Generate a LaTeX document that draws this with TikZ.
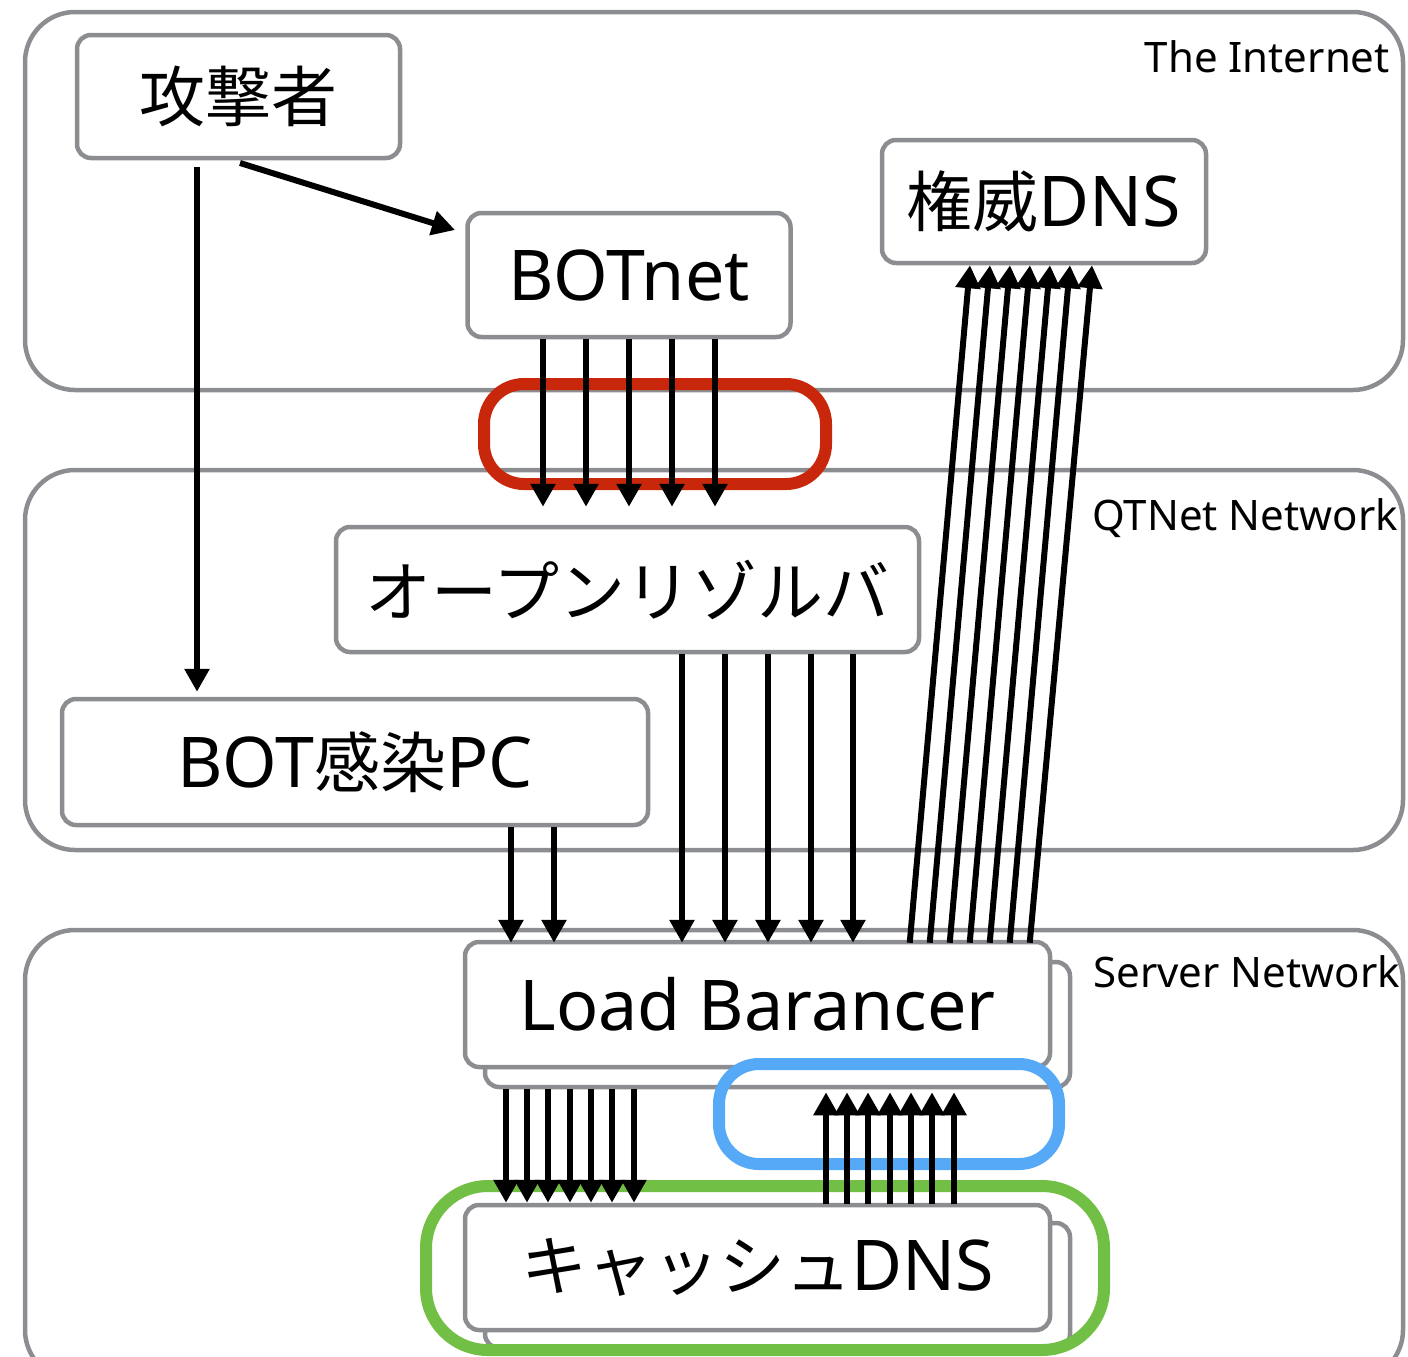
\documentclass[tikz,border=0pt]{standalone}
\usepackage{fontspec}
\setmainfont{Noto Sans}
\newfontfamily\jp{Noto Sans CJK JP}
\usetikzlibrary{arrows.meta}
\definecolor{zgrey}{HTML}{8B8D90}
\definecolor{hred}{HTML}{C8270B}
\definecolor{hblue}{HTML}{56A9F6}
\definecolor{hgreen}{HTML}{71BF44}
\newcommand{\jtxt}[1]{{\jp\fontsize{66}{70}\selectfont #1}}
\tikzset{
  zone/.style={draw=zgrey, line width=4.5pt, rounded corners=50pt, inner sep=0pt},
  zlabel/.style={inner sep=0pt, font=\fontsize{42}{46}\selectfont},
  box/.style={draw=zgrey, fill=white, line width=4.5pt, rounded corners=14pt, inner sep=0pt,
              font=\fontsize{70}{74}\selectfont},
  hl/.style={line width=12pt, rounded corners=40pt, inner sep=0pt},
  arr/.style={line width=6pt, -{Triangle[width=24pt,length=23pt]}},
}
\begin{document}
\begin{tikzpicture}[x=1pt,y=-1pt]
\useasboundingbox (0,0) rectangle (1408,1357);
\clip (0,0) rectangle (1408,1357);
% zones
\node[zone, minimum width=1378pt, minimum height=378pt] (inet) at (714,201) {};
\node[zone, minimum width=1378pt, minimum height=380pt] (qtnet) at (714,660) {};
\node[zone, minimum width=1378pt, minimum height=450pt] (srv) at (714,1155) {};
\node[zlabel, anchor=base east] (linet) at (1390,72) {The Internet};
\node[zlabel, anchor=base east] (lqt) at (1398,530) {QTNet Network};
\node[zlabel, anchor=base east] (lsrv) at (1400,987) {Server Network};
% nodes
\node[box, minimum width=323pt, minimum height=123pt] (atk) at (238.5,96.5) {\jtxt{攻撃者}};
\node[box, minimum width=323pt, minimum height=124pt] (bot) at (629,275) {BOTnet};
\node[box, minimum width=324pt, minimum height=123pt] (auth) at (1044,201.5) {\jtxt{権威}DNS};
\node[box, minimum width=583pt, minimum height=125pt] (open) at (627.5,589.5) {\jtxt{オープンリゾルバ}};
\node[box, minimum width=586pt, minimum height=126pt] (pc) at (355,762) {BOT\jtxt{感染}PC};
\node[box, minimum width=585pt, minimum height=125pt] (lbb) at (777.5,1024.5) {};
\node[box, minimum width=585pt, minimum height=125pt] (lb) at (757.5,1004.5) {Load Barancer};
\node[box, minimum width=585pt, minimum height=125pt] (cacheb) at (777.5,1285.5) {};
\node[box, minimum width=585pt, minimum height=125pt] (cache) at (757.5,1267.5) {\jtxt{キャッシュ}DNS};
% highlights
\node[hl, draw=hred, minimum width=342pt, minimum height=100pt] (hlred) at (655,434) {};
\node[hl, draw=hblue, minimum width=340pt, minimum height=100pt] (hlblue) at (889,1114) {};
\node[hl, draw=hgreen, rounded corners=62pt, minimum width=678pt, minimum height=164pt] (hlgreen) at (765,1268) {};
% arrows
\coordinate (ax) at (197,0);
\draw[arr, shorten <=7pt, shorten >=5pt] (atk.south -| ax) -- (pc.north -| ax);
\coordinate (a1) at (240,163);
\coordinate (a2) at (455,230);
\draw[arr] (a1) -- (a2);
\foreach \x in {543,586,629,672,715} {
  \coordinate (t) at (\x,0);
  \draw[arr, shorten >=18pt] (bot.south -| t) -- (open.north -| t);
}
\foreach \x in {511,554} {
  \coordinate (t) at (\x,0);
  \draw[arr, shorten >=-3pt] (pc.south -| t) -- (lb.north -| t);
}
\foreach \x in {682,725,768,811,853} {
  \coordinate (t) at (\x,0);
  \draw[arr, shorten >=-3pt] (open.south -| t) -- (lb.north -| t);
}
\foreach \a/\b in {910/970,930/990,950/1010,970/1030,990/1050,1010/1070,1030/1092} {
  \coordinate (s) at (\a,0);
  \coordinate (e) at (\b,0);
  \draw[arr, shorten <=-3pt] (lb.north -| s) -- (auth.south -| e);
}
\foreach \x in {506,527,548,570,591,612,634} {
  \coordinate (t) at (\x,0);
  \draw[arr] (lbb.south -| t) -- (cache.north -| t);
}
\foreach \x in {826,847,868,890,911,932,954} {
  \coordinate (t) at (\x,0);
  \draw[arr, shorten <=-1pt, shorten >=3pt] (cache.north -| t) -- (lbb.south -| t);
}
\end{tikzpicture}
\end{document}
